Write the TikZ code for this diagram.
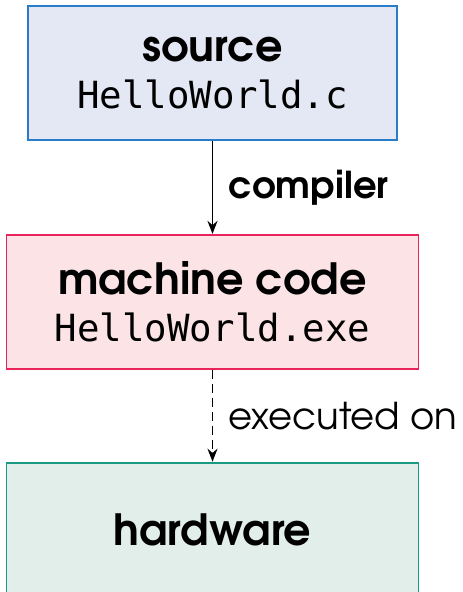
\documentclass[tikz,border=0pt]{standalone}
\usepackage{fontspec}
\setmainfont{TeX Gyre Adventor}
\setmonofont{DejaVu Sans Mono}
\usetikzlibrary{positioning,arrows.meta}

\definecolor{srcfill}{HTML}{E3E8F4}
\definecolor{srcline}{HTML}{2A7BC8}
\definecolor{binfill}{HTML}{FCE4E6}
\definecolor{binline}{HTML}{E8245A}
\definecolor{hwfill}{HTML}{E1EEE9}
\definecolor{hwline}{HTML}{1A9A80}

\begin{document}
\begin{tikzpicture}[x=1pt,y=1pt,
every node/.style={align=center, inner sep=0pt},
box/.style={rectangle, draw, line width=1.8pt, minimum height=134pt, font=\fontsize{43}{47}\selectfont},
flow/.style={-{Stealth[length=13pt,width=10pt]}, line width=1.9pt},
lbl/.style={right=15pt, font=\fontsize{37}{40}\selectfont}]
\useasboundingbox (0,0) rectangle (463,-592);
\node (source)[box, fill=srcfill, draw=srcline, minimum width=369pt] at (212.5,-73)
{\textbf{source}\\\texttt{\fontsize{37.4}{40}\selectfont HelloWorld.c}};
\node (machine)[box, fill=binfill, draw=binline, minimum width=412pt, below=93pt of source]
{\textbf{machine code}\\\texttt{\fontsize{37.4}{40}\selectfont HelloWorld.exe}};
\node (hardware)[box, fill=hwfill, draw=hwline, minimum width=412pt, below=92pt of machine]
{\textbf{hardware}};
\draw [flow] (source) -- node [lbl] {\textbf{compiler}} (machine);
\draw [flow, dash pattern=on 9pt off 5pt] (machine) -- node [lbl] {executed on} (hardware);
\end{tikzpicture}
\end{document}
